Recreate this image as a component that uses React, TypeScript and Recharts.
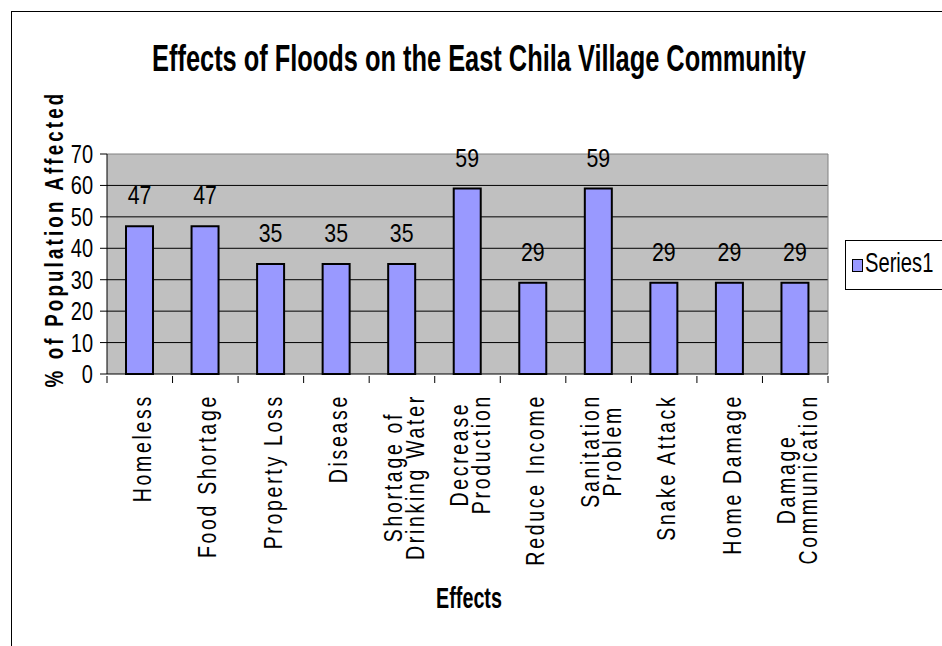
import { BarChart, Bar, XAxis, YAxis, CartesianGrid, LabelList } from "recharts"

// valores
const categories = [
  "Homeless", "Food Shortage", "Property Loss", "Disease", "Shortage of\nDrinking Water",
  "Decrease\nProduction", "Reduce Income", "Sanitation\nProblem", "Snake Attack",
  "Home Damage", "Damage\nCommunication",
]
const series1 = [47, 47, 35, 35, 35, 59, 29, 59, 29, 29, 29]
const yTicks = [0, 10, 20, 30, 40, 50, 60, 70]

const data = categories.map((name, i) => ({ name, value: series1[i] }))

// sem Arial Narrow instalada: Liberation Sans comprimida na horizontal
const FONT = '"Liberation Sans", Arial, sans-serif'
const W = 942
const H = 646
const M = { top: 154, right: 114, left: 47, bottom: 0 }
const Y_W = 60
const PLOT_W = W - M.left - Y_W - M.right
const STEP = PLOT_W / categories.length

const TICK_FS = 26
const TICK_SX = 0.75
const TICK_LS = 3.6
let ctx: CanvasRenderingContext2D | null = null
function textW(s: string) {
  if (!ctx) ctx = document.createElement("canvas").getContext("2d")
  if (!ctx) return s.length * 18
  ctx.font = `${TICK_FS}px ${FONT}`
  return ctx.measureText(s).width + TICK_LS * s.length
}

function CatTick(props: any) {
  const { x, y, payload, index, visibleTicksCount } = props
  const lines = String(payload.value).split("\n")
  const block = Math.max(...lines.map(textW))
  const top = y + 18
  return (
    <g>
      <line x1={x - STEP / 2} x2={x - STEP / 2} y1={y} y2={y + 7} stroke="#000" />
      {index === visibleTicksCount - 1 && (
        <line x1={x + STEP / 2} x2={x + STEP / 2} y1={y} y2={y + 7} stroke="#000" />
      )}
      <g transform={`translate(${x},${top}) rotate(-90) scale(${TICK_SX},1)`}>
        {lines.map((ln, i) => (
          <text key={i} x={-block / 2} y={11 + (i - (lines.length - 1) / 2) * 22}
            textAnchor="middle" fontFamily={FONT} fontSize={TICK_FS}
            letterSpacing={TICK_LS} fill="#000">{ln}</text>
        ))}
      </g>
    </g>
  )
}

function YTick(props: any) {
  const { x, y, payload } = props
  return (
    <g transform={`translate(${x},${y}) scale(0.8,1)`}>
      <text textAnchor="end" dy="0.36em" fontFamily={FONT} fontSize={25} fill="#000">{payload.value}</text>
    </g>
  )
}

function ValueLabel(props: any) {
  const { x, y, width, value } = props
  return (
    <g transform={`translate(${x + width / 2},${y - 22}) scale(0.82,1)`}>
      <text textAnchor="middle" fontFamily={FONT} fontSize={26} fill="#000">{value}</text>
    </g>
  )
}

export default function App() {
  return (
    <div style={{ position: "absolute", left: 0, top: 0, width: W, height: H, overflow: "hidden", background: "#fff" }}>
      <div style={{ position: "absolute", left: 11, top: 11, width: 1000, height: 700, border: "1.5px solid #000" }} />
      <div style={{
        position: "absolute", left: 479, top: 59, transform: "translate(-50%,-50%) scaleX(0.705)", whiteSpace: "nowrap",
        fontFamily: FONT, fontWeight: 700, fontSize: 36, color: "#000",
      }}>
        Effects of Floods on the East Chila Village Community
      </div>
      <div style={{
        position: "absolute", left: 54, top: 239, transform: "translate(-50%,-50%) rotate(-90deg) scaleX(0.72)", whiteSpace: "nowrap",
        fontFamily: FONT, fontWeight: 700, fontSize: 26, letterSpacing: 4.4, color: "#000",
      }}>
        % of Population Affected
      </div>
      <div style={{
        position: "absolute", left: 469, top: 598, transform: "translate(-50%,-50%) scaleX(0.68)", whiteSpace: "nowrap",
        fontFamily: FONT, fontWeight: 700, fontSize: 29, color: "#000",
      }}>
        Effects
      </div>
      <div style={{
        position: "absolute", left: 845, top: 240, width: 120, height: 50, border: "1px solid #000",
        boxSizing: "border-box", fontFamily: FONT, fontSize: 28, color: "#000",
      }}>
        <span style={{ position: "absolute", left: 6, top: 18, width: 9, height: 11, background: "#9999FF", border: "1px solid #000" }} />
        <span style={{ position: "absolute", left: 19, top: 6, transform: "scaleX(0.72)", transformOrigin: "left center", whiteSpace: "nowrap" }}>Series1</span>
      </div>
      <div style={{ position: "absolute", left: 0, top: 0 }}>
        <BarChart width={W} height={H} data={data} margin={M}>
          <CartesianGrid vertical={false} stroke="#000" fill="#C0C0C0" horizontalValues={[10, 20, 30, 40, 50, 60]} />
          <CartesianGrid horizontal={true} vertical={true} stroke="#808080"
            horizontalCoordinatesGenerator={({ offset }: any) => [offset.top]}
            verticalCoordinatesGenerator={({ offset }: any) => [offset.left + offset.width]} />
          <XAxis dataKey="name" interval={0} height={H - M.top - 220} tickSize={0} tickLine={false}
            axisLine={{ stroke: "#000" }} tick={<CatTick />} />
          <YAxis width={Y_W} domain={[0, 70]} ticks={yTicks} interval={0} tickSize={7} tickMargin={7}
            axisLine={{ stroke: "#000" }} tickLine={{ stroke: "#000" }} tick={<YTick />} />
          <Bar dataKey="value" fill="#9999FF" stroke="#000" strokeWidth={2} barSize={27} isAnimationActive={false}>
            <LabelList dataKey="value" content={<ValueLabel />} />
          </Bar>
        </BarChart>
      </div>
    </div>
  )
}
